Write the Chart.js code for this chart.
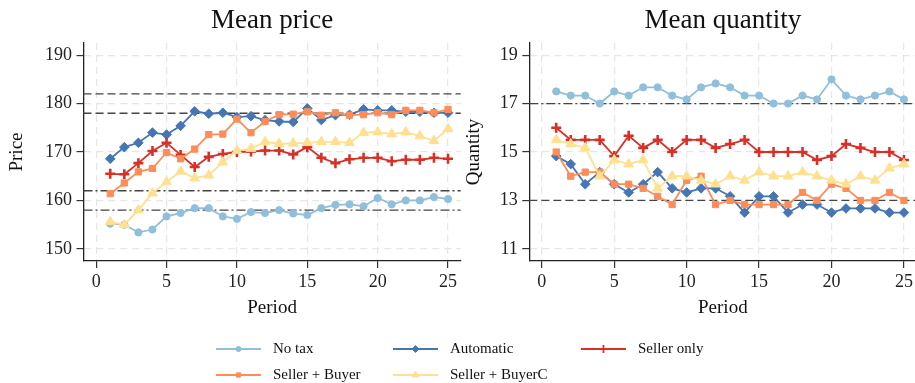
<!DOCTYPE html>
<html>
<head>
<meta charset="utf-8">
<script src="https://cdn.jsdelivr.net/npm/chart.js@4.4.0/dist/chart.umd.min.js"></script>
<style>
  html,body{margin:0;padding:0;background:#fff;overflow:hidden;width:915px;height:383px;}
  #wrap{position:relative;width:915px;height:383px;}
  canvas{position:absolute;}
</style>
</head>
<body>
<div id="wrap">
  <canvas id="priceChart" style="left:0;top:0;width:470px;height:330px" width="470" height="330"></canvas>
  <canvas id="qtyChart" style="left:455px;top:0;width:470px;height:330px" width="470" height="330"></canvas>
  <canvas id="legend" style="left:0;top:320px;width:915px;height:63px" width="915" height="63"></canvas>
</div>
<script>
// --- data ---
const periods = [1,2,3,4,5,6,7,8,9,10,11,12,13,14,15,16,17,18,19,20,21,22,23,24,25];
const seriesNames = ["No tax","Automatic","Seller only","Seller + Buyer","Seller + BuyerC"];

const priceNoTax      = [155.2,155.0,153.4,154.0,156.7,157.4,158.4,158.4,156.7,156.2,157.6,157.4,158.0,157.3,157.0,158.4,159.1,159.2,158.8,160.5,159.2,160.0,160.0,160.7,160.3];
const priceAutomatic  = [168.6,171.0,171.9,174.0,173.6,175.4,178.4,177.9,178.1,177.2,177.4,176.6,176.3,176.2,179.0,176.6,177.6,177.7,178.8,178.6,178.6,178.3,178.3,178.1,178.1];
const priceSellerOnly = [165.5,165.4,167.7,170.2,171.9,169.4,166.9,169.0,169.6,170.0,170.1,170.3,170.3,169.5,171.0,168.8,167.7,168.5,168.8,168.8,168.1,168.4,168.4,168.8,168.6];
const priceSellerBuyer= [161.4,163.6,165.9,166.6,169.9,168.6,170.6,173.6,173.7,176.8,174.0,176.3,177.7,177.8,178.3,177.6,178.1,177.6,177.7,178.1,177.7,178.6,178.6,178.1,178.8];
const priceSellerBuyerC=[155.6,155.0,158.0,161.5,163.8,166.0,164.6,165.2,167.9,170.3,170.7,172.1,171.7,171.8,171.9,172.1,172.1,171.9,174.0,174.1,173.7,174.1,173.3,172.3,174.8];

const qtyNoTax        = [17.5,17.33,17.33,17,17.5,17.33,17.67,17.67,17.33,17.17,17.67,17.83,17.67,17.33,17.33,17,17,17.33,17.17,18,17.33,17.17,17.33,17.5,17.17];
const qtyAutomatic    = [14.83,14.5,13.67,14.17,13.67,13.33,13.67,14.17,13.5,13.33,13.5,13.5,13.17,12.5,13.17,13.17,12.5,12.83,12.83,12.5,12.67,12.67,12.67,12.5,12.5];
const qtySellerOnly   = [16,15.5,15.5,15.5,14.83,15.67,15.17,15.5,15,15.5,15.5,15.17,15.33,15.5,15,15,15,15,14.67,14.83,15.33,15.17,15,15,14.67];
const qtySellerBuyer  = [15,14,14.17,14.17,13.67,13.67,13.5,13.17,12.83,13.83,14,12.83,13,12.83,12.83,12.83,12.83,13.33,13,13.67,13.5,13,13,13.33,13];
const qtySellerBuyerC = [15.5,15.33,15.17,14,14.67,14.5,14.67,13.5,14,14,13.83,13.67,14,13.83,14.17,14,14,14.17,14,13.83,13.67,14,13.83,14.33,14.5];

const xTicks     = [0,5,10,15,20,25];
const priceTicks = [150,160,170,180,190];
const qtyTicks   = [11,13,15,17,19];

const priceRefs = [182,178,162,158];
const priceRefKinds = ["dash","dash","dashdot","dashdot"];
const qtyRefs = [17,13];
const qtyRefKinds = ["dashdot","dash"];

// --- styles ---
const colors = ["#91bfdb","#4575b4","#d73027","#fc8d59","#fee090"];
const markers = [
  {style:"circle",  r:3.6, bw:1},
  {style:"rectRot", r:4.8, bw:1},
  {style:"cross",   r:5,   bw:2.6},
  {style:"rect",    r:4.4, bw:1},
  {style:"triangle",r:5.6, bw:1}
];
const serif = "'Liberation Serif','DejaVu Serif',serif";
const refDash = { dash:[8,4], dashdot:[9,3,2,3] };
const refColor = { dash:"#444", dashdot:"#444" };

function byId(id){ return document.getElementById(id); }

function makeDatasets(lists){
  return lists.map((vals,i)=>({
    label: seriesNames[i],
    data: vals.map((v,j)=>({x:periods[j], y:v})),
    borderColor: colors[i], backgroundColor: colors[i],
    pointBackgroundColor: colors[i], pointBorderColor: colors[i],
    borderWidth: 1.8, pointStyle: markers[i].style, pointRadius: markers[i].r,
    pointBorderWidth: markers[i].bw, tension: 0, order: 10 - i
  }));
}

const refLinesPlugin = {
  id:"refLines",
  beforeDatasetsDraw(chart, args, opts){
    const {ctx, chartArea:a, scales:{y}} = chart;
    ctx.save();
    ctx.lineWidth = 1.3;
    opts.values.forEach((v,i)=>{
      const kind = opts.kinds[i], py = y.getPixelForValue(v);
      ctx.strokeStyle = refColor[kind];
      ctx.setLineDash(refDash[kind]);
      ctx.beginPath(); ctx.moveTo(a.left, py); ctx.lineTo(a.right, py); ctx.stroke();
    });
    ctx.restore();
  }
};

function makeChart(el, title, yTitle, lists, yMin, yMax, yTicks, xMin, xMax, refs, kinds, yWidth, yTitlePad, padRight){
  return new Chart(el, {
    type:"line",
    data:{ datasets: makeDatasets(lists) },
    plugins:[refLinesPlugin],
    options:{
      responsive:false, animation:false, events:[],
      layout:{ padding:{left:0, right:padRight, top:0, bottom:0} },
      plugins:{
        legend:{display:false}, tooltip:{enabled:false},
        title:{display:true, text:title, fullSize:false, color:"#111",
          font:{family:serif, size:27, weight:"normal", lineHeight:1.2}, padding:{top:5, bottom:5.6}},
        refLines:{ values:refs, kinds:kinds }
      },
      scales:{
        x:{ type:"linear", min:xMin, max:xMax,
          afterBuildTicks:s=>{ s.ticks = xTicks.map(v=>({value:v})); },
          afterFit:s=>{ s.height = 69; },
          ticks:{ color:"#222", padding:3, font:{family:serif, size:18}, maxRotation:0, autoSkip:false },
          grid:{ color:"#e6e6e6", lineWidth:1.2, tickColor:"#333", tickLength:7, tickWidth:1.2 },
          border:{ display:true, color:"#222", width:1.3, dash:[7,5] },
          title:{ display:true, text:"Period", color:"#111", font:{family:serif, size:19, lineHeight:1.2}, padding:{top:0,bottom:10.6} }
        },
        y:{ type:"linear", min:yMin, max:yMax,
          afterBuildTicks:s=>{ s.ticks = yTicks.map(v=>({value:v})); },
          afterFit:s=>{ s.width = yWidth; },
          ticks:{ color:"#222", padding:4.5, font:{family:serif, size:18}, autoSkip:false },
          grid:{ color:"#e6e6e6", lineWidth:1.2, tickColor:"#333", tickLength:7, tickWidth:1.2 },
          border:{ display:true, color:"#222", width:1.3, dash:[7,5] },
          title:{ display:true, text:yTitle, color:"#111", font:{family:serif, size:19, lineHeight:1.2}, padding:{top:yTitlePad,bottom:0} }
        }
      }
    }
  });
}

makeChart(byId("priceChart"), "Mean price", "Price",
  [priceNoTax,priceAutomatic,priceSellerOnly,priceSellerBuyer,priceSellerBuyerC],
  147.5, 192.5, priceTicks, -0.9, 25.9, priceRefs, priceRefKinds, 83.5, 5.6, 9.3);

makeChart(byId("qtyChart"), "Mean quantity", "Quantity",
  [qtyNoTax,qtyAutomatic,qtySellerOnly,qtySellerBuyer,qtySellerBuyerC],
  10.5, 19.5, qtyTicks, -0.86, 25.86, qtyRefs, qtyRefKinds, 74.3, 7.6, 8.6);

// --- legend (3 columns x 2 rows) ---
(function drawLegend(){
  const c = byId("legend"), ctx = c.getContext("2d");
  const colX = [216, 393, 581], rowY = [29, 55], lineLen = 45;
  const legendR = [2.6, 3.4, 4, 3, 3.8];
  seriesNames.forEach((name,i)=>{
    const x0 = colX[i % 3], y0 = rowY[Math.floor(i / 3)];
    ctx.strokeStyle = colors[i]; ctx.fillStyle = colors[i];
    ctx.lineWidth = 1.8;
    ctx.beginPath(); ctx.moveTo(x0, y0); ctx.lineTo(x0 + lineLen, y0); ctx.stroke();
    ctx.lineWidth = markers[i].bw > 2 ? 1.8 : 1;
    Chart.helpers.drawPoint(ctx, {pointStyle:markers[i].style, radius:legendR[i], borderWidth:ctx.lineWidth, rotation:0}, x0 + lineLen/2, y0);
    ctx.fillStyle = "#111";
    ctx.font = "15px " + serif;
    ctx.textBaseline = "middle";
    ctx.fillText(name, x0 + 57, y0);
  });
})();
</script>
</body>
</html>
